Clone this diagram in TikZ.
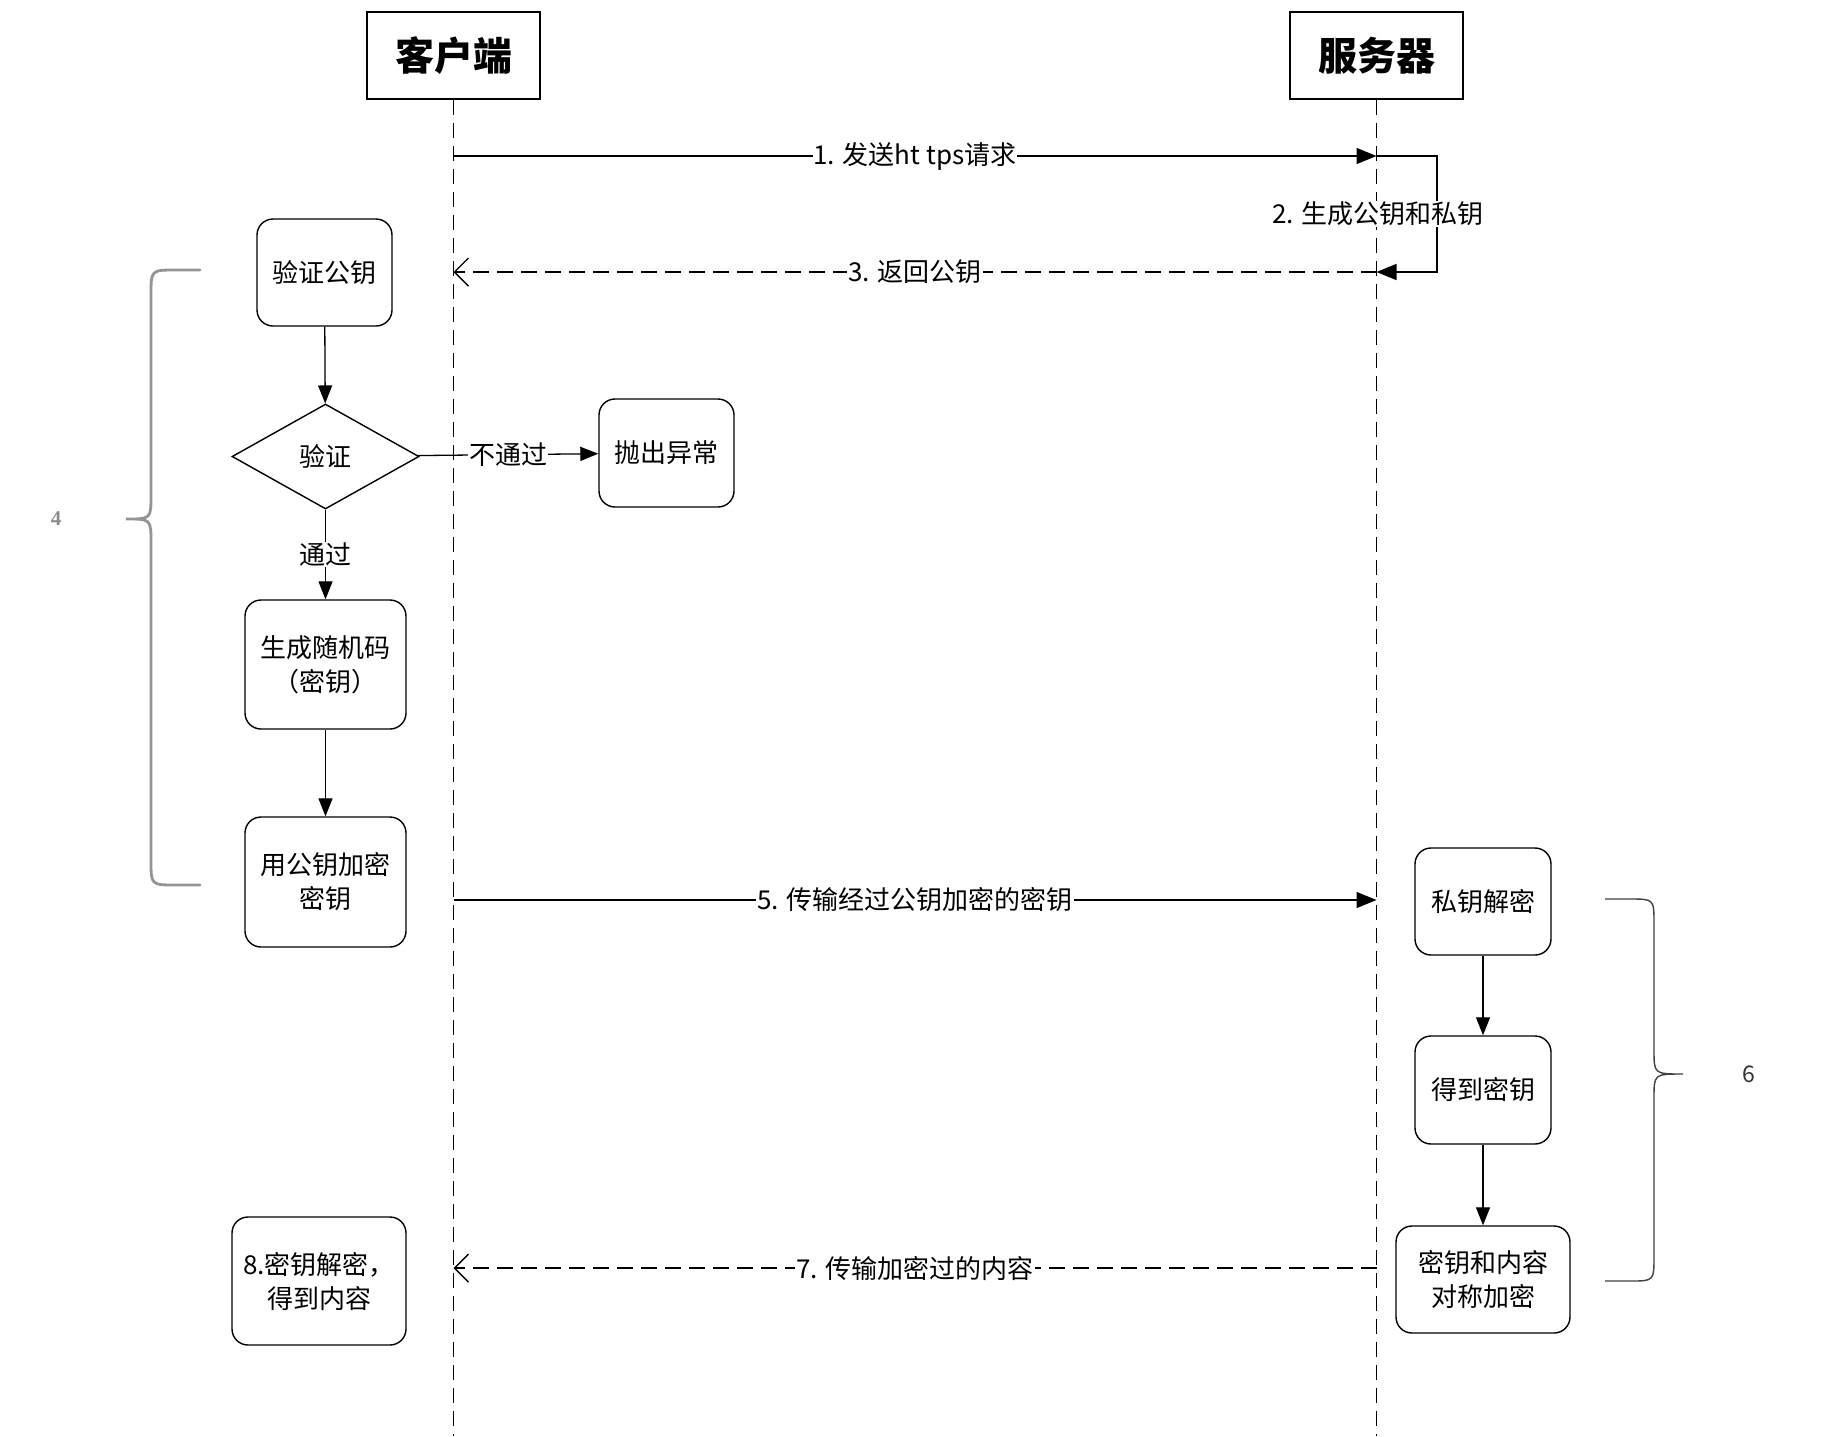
\documentclass[tikz,border=0pt]{standalone}
\usepackage{fontspec}
\setmainfont{Noto Sans CJK SC}
\newfontfamily\serifnum{Liberation Serif}
\usetikzlibrary{arrows.meta,shapes.geometric}
\begin{document}
\begin{tikzpicture}[x=1pt,y=-1pt,
  head/.style={draw, line width=1.6pt, minimum width=173pt, minimum height=87pt, inner sep=0pt, font=\fontsize{39}{44}\selectfont\bfseries},
  proc/.style={draw, line width=1.4pt, rounded corners=16pt, align=center, inner sep=0pt, font=\fontsize{26}{34}\selectfont},
  life/.style={line width=1.4pt, dash pattern=on 15pt off 8pt},
  msg/.style={line width=1.4pt, -{Triangle[length=20pt,width=16pt]}},
  reply/.style={line width=1.4pt, dash pattern=on 16pt off 8pt, -{Straight Barb[length=14pt,width=28pt]}},
  lbl/.style={fill=white, inner sep=1pt, font=\fontsize{26}{30}\selectfont},
  flow/.style={line width=1.3pt, -{Triangle[length=18pt,width=14pt]}},
]
\useasboundingbox (0,0) rectangle (1826,1436);
\fill[white] (0,0) rectangle (1826,1436);

% headers and lifelines
\node[head] (client) at (453.5,55.5) {客户端};
\node[head] (server) at (1376.5,55.5) {服务器};
\coordinate (cend) at (453.5,1436);
\coordinate (send) at (1376.5,1436);
\draw[life] (client.south) -- (cend);
\draw[life] (server.south) -- (send);

% message points
\coordinate (c1) at (453.5,156);  \coordinate (s1) at (1376.5,156);
\coordinate (l1) at (1437,156);   \coordinate (l2) at (1437,272);
\coordinate (c3) at (453.5,272);  \coordinate (s3) at (1376.5,272);
\coordinate (c5) at (453.5,900);  \coordinate (s5) at (1376.5,900);
\coordinate (c7) at (453.5,1268); \coordinate (s7) at (1376.5,1268);

\draw[msg] (c1) -- node[lbl]{1. 发送ht tps请求} (s1);
\draw[msg] (s1) -- (l1) -- (l2) -- (s3);
\node[lbl] (gen2) at (1378,214) {2. 生成公钥和私钥};
\draw[reply] (s3) -- node[lbl]{3. 返回公钥} (c3);
\draw[msg] (c5) -- node[lbl]{5. 传输经过公钥加密的密钥} (s5);
\draw[reply] (s7) -- node[lbl]{7. 传输加密过的内容} (c7);

% client side flow
\node[proc, minimum width=135pt, minimum height=107pt] (vk) at (324.5,272.5) {验证公钥};
\node[draw, line width=1.4pt, shape=diamond, minimum width=187pt, minimum height=105pt, inner sep=0pt, font=\fontsize{26}{30}\selectfont] (dia) at (325.5,456.5) {验证};
\node[proc, minimum width=135pt, minimum height=108pt] (ex) at (666.5,453) {抛出异常};
\node[proc, minimum width=161pt, minimum height=129pt] (gen) at (325.5,664.5) {生成随机码\\（密钥）};
\node[proc, minimum width=161pt, minimum height=130pt] (enc) at (325.5,882) {用公钥加密\\密钥};
\node[proc, minimum width=174pt, minimum height=128pt] (d8) at (319,1281) {8.密钥解密，\\得到内容};

\draw[flow] (vk) -- (dia);
\draw[flow] (dia) -- node[lbl]{不通过} (ex);
\draw[flow] (dia) -- node[lbl]{通过} (gen);
\draw[flow] (gen) -- (enc);

% server side flow
\node[proc, minimum width=136pt, minimum height=107pt] (pd) at (1483,901.5) {私钥解密};
\node[proc, minimum width=136pt, minimum height=108pt] (gk) at (1483,1090) {得到密钥};
\node[proc, minimum width=174pt, minimum height=107pt] (se) at (1483,1279.5) {密钥和内容\\对称加密};
\draw[flow] (pd) -- (gk);
\draw[flow] (gk) -- (se);

% braces
\draw[line width=2.8pt, color=black!42, line cap=round]
  (200,270) -- (176,270) .. controls (151,270) .. (151,295) -- (151,495)
  .. controls (151,519) .. (126,519) .. controls (151,519) .. (151,543)
  -- (151,861) .. controls (151,885) .. (176,885) -- (200,885);
\node[font=\fontsize{21}{24}\selectfont\serifnum\bfseries, text=black!45] (n4) at (56,519) {4};

\draw[line width=1.4pt, color=black!75]
  (1605,899) -- (1630,899) .. controls (1654,899) .. (1654,924) -- (1654,1050)
  .. controls (1654,1074) .. (1683,1074) .. controls (1654,1074) .. (1654,1098)
  -- (1654,1256) .. controls (1654,1281) .. (1630,1281) -- (1605,1281);
\node[font=\fontsize{23}{26}\selectfont, text=black!80] (n6) at (1749,1074) {6};
\end{tikzpicture}
\end{document}
